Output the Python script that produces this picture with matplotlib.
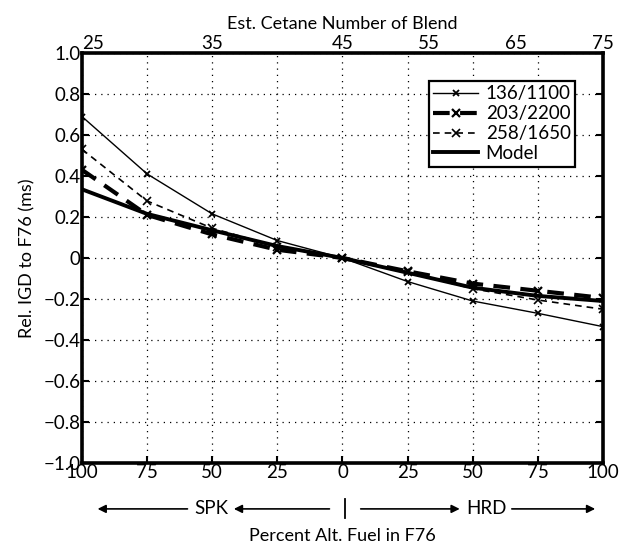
import numpy as np
import matplotlib
matplotlib.use("Agg")
import matplotlib.pyplot as plt
import matplotlib.transforms as mtransforms

plt.rcParams['font.family'] = ['Lato', 'DejaVu Sans']

# percent alternative fuel in F76: negative side = SPK, positive side = HRD
pct = [-100, -75, -50, -25, 0, 25, 50, 75, 100]
pct_labels = ['100', '75', '50', '25', '0', '25', '50', '75', '100']

igd_136 = [0.69, 0.41, 0.215, 0.085, 0.0, -0.115, -0.21, -0.27, -0.335]
igd_203 = [0.43, 0.21, 0.115, 0.04, 0.0, -0.065, -0.125, -0.16, -0.195]
igd_258 = [0.53, 0.278, 0.145, 0.055, 0.0, -0.07, -0.15, -0.205, -0.25]
igd_model = [0.335, 0.215, 0.135, 0.058, 0.0, -0.072, -0.145, -0.185, -0.21]

y_ticks = [1.0, 0.8, 0.6, 0.4, 0.2, 0.0, -0.2, -0.4, -0.6, -0.8, -1.0]
y_labels = ['1.0', '0.8', '0.6', '0.4', '0.2', '0', '\u22120.2', '\u22120.4',
            '\u22120.6', '\u22120.8', '\u22121.0']

# estimated cetane number on the top axis
cetane_pos = [-100, -50, 0, 33.3, 66.7, 100]
cetane_labels = ['25', '35', '45', '55', '65', '75']

fs = 13.5

fig = plt.figure(figsize=(6.21, 5.45), dpi=100)
ax = fig.add_axes([0.132, 0.1505, 0.839, 0.7523])

ax.plot(pct, igd_136, color='black', lw=1.0, marker='x', ms=5, mew=1.3,
        label='136/1100')
ax.plot(pct, igd_203, color='black', lw=3.0, ls=(0, (4, 2.5)), marker='x',
        ms=6, mew=1.6, label='203/2200')
ax.plot(pct, igd_258, color='black', lw=1.2, ls=(0, (4, 3)), marker='x',
        ms=6, mew=1.2, label='258/1650')
ax.plot(pct, igd_model, color='black', lw=2.8, label='Model')

ax.set_xlim(-100, 100)
ax.set_ylim(-1.0, 1.0)
ax.set_xticks(pct)
ax.set_xticklabels(pct_labels)
ax.set_yticks(y_ticks)
ax.set_yticklabels(y_labels)
ax.grid(True, color='black', ls=(0, (1, 4)), lw=0.9)
ax.tick_params(direction='in', length=5, width=1.5, top=True, right=True,
               labelsize=fs, pad=1)
for s in ax.spines.values():
    s.set_linewidth(2.6)

ax.set_ylabel('Rel. IGD to F76 (ms)', fontsize=13, labelpad=6)

leg = ax.legend(loc='upper right', bbox_to_anchor=(0.965, 0.955), fontsize=fs,
                handlelength=2.4, handletextpad=0.4, borderpad=0.25,
                labelspacing=0.15, fancybox=False, framealpha=1,
                edgecolor='black')
leg.get_frame().set_linewidth(1.6)

# top axis: estimated cetane number of the blend
top = ax.twiny()
top.set_xlim(ax.get_xlim())
top.set_xticks(cetane_pos)
top.set_xticklabels(cetane_labels)
top.tick_params(length=0, labelsize=fs, pad=1)
top.get_xticklabels()[0].set_ha('left')
top.set_xlabel('Est. Cetane Number of Blend', fontsize=13, labelpad=4)

# direction arrows under the percent axis
tr = mtransforms.blended_transform_factory(ax.transData, ax.transAxes)
y_arr = -0.112
arr = dict(arrowstyle='-|>', color='black', lw=1.2, mutation_scale=12,
           shrinkA=0, shrinkB=0)
for head, tail in [(-94, -59.5), (-41.7, -5), (45, 7), (97, 65)]:
    ax.annotate('', xy=(head, y_arr), xytext=(tail, y_arr), xycoords=tr,
                textcoords=tr, arrowprops=arr, annotation_clip=False)
ax.plot([0.8, 0.8], [-0.088, -0.134], color='black', lw=1.3, transform=tr,
        clip_on=False)
ax.text(-50.5, y_arr, 'SPK', transform=tr, ha='center', va='center', fontsize=fs)
ax.text(55.2, y_arr, 'HRD', transform=tr, ha='center', va='center', fontsize=fs)
ax.text(0, -0.178, 'Percent Alt. Fuel in F76', transform=tr, ha='center',
        va='center', fontsize=13)

fig.savefig('out.png', dpi=100)
